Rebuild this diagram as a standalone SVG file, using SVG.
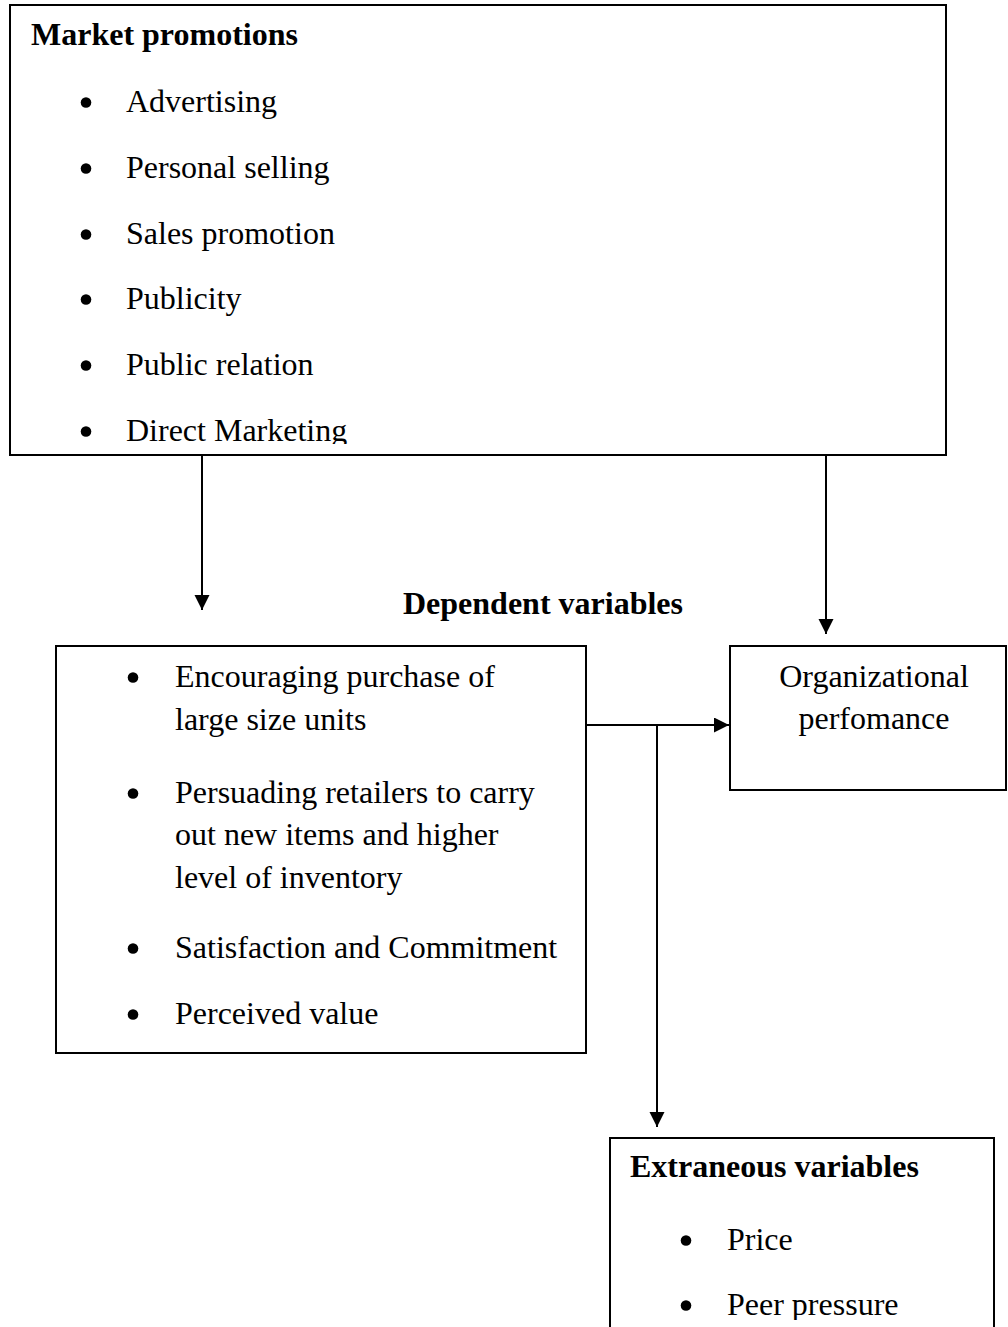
<svg xmlns="http://www.w3.org/2000/svg" width="1008" height="1327" viewBox="0 0 1008 1327">
<style>
.box{fill:#fff;stroke:#000;stroke-width:2}
.t{font-family:"Liberation Serif","Times New Roman",serif;font-size:32px;fill:#000}
.b{font-weight:bold}
.bul{fill:#000}
.con{stroke:#000;stroke-width:2;fill:none}
</style>
<defs>
<marker id="ah" markerUnits="userSpaceOnUse" markerWidth="16" markerHeight="16" refX="15" refY="7.5" orient="auto">
<path d="M0,0 L15,7.5 L0,15 z" fill="#000"/>
</marker>
<clipPath id="clipTop"><rect x="0" y="0" width="1008" height="444"/></clipPath>
<clipPath id="clipExt"><rect x="0" y="1130" width="1008" height="190"/></clipPath>
</defs>
<rect width="1008" height="1327" fill="#fff"/>
<g id="market-promotions">
<rect class="box" x="10" y="5" width="936" height="450"/>
<text class="t b" x="31" y="45">Market promotions</text>
<g clip-path="url(#clipTop)">
<circle class="bul" cx="86" cy="102.5" r="5.3"/><text class="t" x="126" y="112">Advertising</text>
<circle class="bul" cx="86" cy="168.5" r="5.3"/><text class="t" x="126" y="178">Personal selling</text>
<circle class="bul" cx="86" cy="234.5" r="5.3"/><text class="t" x="126" y="244">Sales promotion</text>
<circle class="bul" cx="86" cy="299.5" r="5.3"/><text class="t" x="126" y="309">Publicity</text>
<circle class="bul" cx="86" cy="365.5" r="5.3"/><text class="t" x="126" y="375">Public relation</text>
<circle class="bul" cx="86" cy="431.5" r="5.3"/><text class="t" x="126" y="441">Direct Marketing</text>
</g>
</g>
<g id="dependent-label">
<text class="t b" x="403" y="614">Dependent variables</text>
</g>
<g id="dependent-variables">
<rect class="box" x="56" y="646" width="530" height="407"/>
<circle class="bul" cx="133" cy="677.5" r="5.3"/><text class="t" x="175" y="687">Encouraging purchase of</text>
<text class="t" x="175" y="730">large size units</text>
<circle class="bul" cx="133" cy="793.5" r="5.3"/><text class="t" x="175" y="803">Persuading retailers to carry</text>
<text class="t" x="175" y="845">out new items and higher</text>
<text class="t" x="175" y="888">level of inventory</text>
<circle class="bul" cx="133" cy="948.5" r="5.3"/><text class="t" x="175" y="958">Satisfaction and Commitment</text>
<circle class="bul" cx="133" cy="1014.5" r="5.3"/><text class="t" x="175" y="1024">Perceived value</text>
</g>
<g id="organizational-performance">
<rect class="box" x="730" y="646" width="276" height="144"/>
<text class="t" x="874" y="687" text-anchor="middle">Organizational</text>
<text class="t" x="874" y="729" text-anchor="middle">perfomance</text>
</g>
<g id="extraneous-variables">
<rect class="box" x="610" y="1138" width="384" height="200"/>
<text class="t b" x="630" y="1177">Extraneous variables</text>
<g clip-path="url(#clipExt)">
<circle class="bul" cx="686" cy="1240.5" r="5.3"/><text class="t" x="727" y="1250">Price</text>
<circle class="bul" cx="686" cy="1305.5" r="5.3"/><text class="t" x="727" y="1315">Peer pressure</text>
</g>
</g>
<g id="connectors">
<line class="con" x1="202" y1="455" x2="202" y2="610" marker-end="url(#ah)"/>
<line class="con" x1="826" y1="455" x2="826" y2="634" marker-end="url(#ah)"/>
<line class="con" x1="586" y1="725" x2="729" y2="725" marker-end="url(#ah)"/>
<line class="con" x1="657" y1="725" x2="657" y2="1127" marker-end="url(#ah)"/>
</g>
</svg>
